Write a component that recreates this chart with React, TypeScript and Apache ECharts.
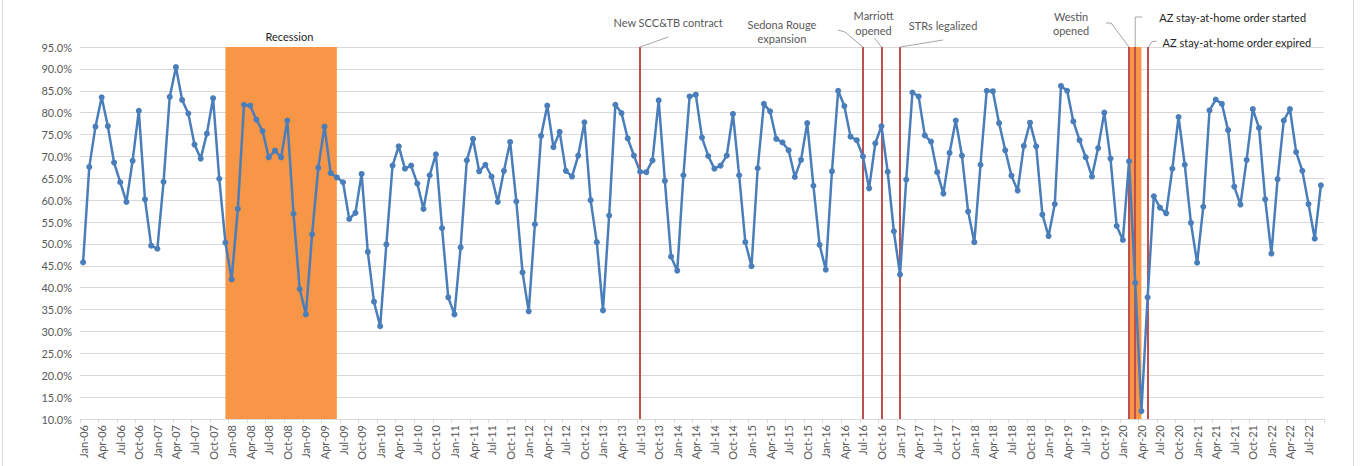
import React, { useEffect, useRef } from "react";
import * as echarts from "echarts";

// ---- Data ----
const monthNames = ["Jan", "Feb", "Mar", "Apr", "May", "Jun", "Jul", "Aug", "Sep", "Oct", "Nov", "Dec"];
const yearLabels = ["06", "07", "08", "09", "10", "11", "12", "13", "14", "15", "16", "17", "18", "19", "20", "21", "22"];

const occ2006 = [45.8, 67.6, 76.8, 83.5, 76.9, 68.6, 64.1, 59.6, 69.0, 80.4, 60.2, 49.6];
const occ2007 = [48.9, 64.2, 83.6, 90.4, 82.9, 79.8, 72.7, 69.5, 75.2, 83.3, 64.9, 50.3];
const occ2008 = [41.9, 58.0, 81.8, 81.6, 78.4, 75.8, 69.8, 71.3, 69.8, 78.2, 56.9, 39.7];
const occ2009 = [33.9, 52.2, 67.4, 76.8, 66.2, 65.2, 64.1, 55.7, 57.1, 66.0, 48.2, 36.8];
const occ2010 = [31.2, 49.9, 67.9, 72.3, 67.2, 67.9, 63.8, 58.0, 65.7, 70.5, 53.6, 37.8];
const occ2011 = [33.9, 49.2, 69.1, 74.0, 66.6, 68.1, 65.4, 59.6, 66.7, 73.3, 59.7, 43.5];
const occ2012 = [34.6, 54.5, 74.7, 81.6, 72.1, 75.6, 66.7, 65.4, 70.2, 77.8, 60.0, 50.4];
const occ2013 = [34.8, 56.5, 81.8, 79.9, 74.1, 70.2, 66.5, 66.4, 69.1, 82.8, 64.4, 47.1];
const occ2014 = [43.9, 65.7, 83.7, 84.1, 74.3, 70.1, 67.2, 67.9, 70.2, 79.7, 65.7, 50.4];
const occ2015 = [44.9, 67.3, 82.0, 80.3, 74.0, 73.2, 71.4, 65.3, 69.2, 77.6, 63.3, 49.8];
const occ2016 = [44.1, 66.6, 85.0, 81.5, 74.5, 73.7, 70.0, 62.7, 73.0, 76.9, 66.5, 52.9];
const occ2017 = [43.0, 64.7, 84.6, 83.7, 74.8, 73.4, 66.4, 61.5, 70.8, 78.2, 70.2, 57.4];
const occ2018 = [50.4, 68.1, 85.0, 84.9, 77.6, 71.4, 65.6, 62.2, 72.4, 77.7, 72.3, 56.7];
const occ2019 = [51.8, 59.1, 86.1, 85.0, 78.0, 73.7, 69.8, 65.4, 71.9, 80.0, 69.5, 54.1];
const occ2020 = [50.9, 68.9, 41.1, 11.8, 37.8, 60.9, 58.3, 57.0, 67.2, 79.0, 68.1, 54.8];
const occ2021 = [45.7, 58.5, 80.5, 83.0, 82.0, 76.0, 63.1, 59.0, 69.2, 80.8, 76.5, 60.2];
const occ2022 = [47.8, 64.8, 78.2, 80.8, 71.0, 66.7, 59.1, 51.2, 63.4];

const occupancy = [
  ...occ2006, ...occ2007, ...occ2008, ...occ2009, ...occ2010, ...occ2011, ...occ2012,
  ...occ2013, ...occ2014, ...occ2015, ...occ2016, ...occ2017, ...occ2018, ...occ2019,
  ...occ2020, ...occ2021, ...occ2022,
];

const categories = yearLabels
  .flatMap((y) => monthNames.map((m) => `${m}-${y}`))
  .slice(0, occupancy.length);

const yMin = 10;
const yMax = 95;
const yStep = 5;

const recessionBands = [
  ["Dec-07", "Jun-09"],
  ["Feb-20", "Apr-20"],
];
const eventMonths = ["Jul-13", "Jul-16", "Oct-16", "Jan-17", "Feb-20", "Mar-20", "May-20"];
const eventLabels = [
  "New SCC&TB contract",
  "Sedona Rouge\nexpansion",
  "Marriott\nopened",
  "STRs legalized",
  "Westin\nopened",
  "AZ stay-at-home order started",
  "AZ stay-at-home order expired",
];

const FONT = "Lato, 'Open Sans', sans-serif";

export default function App() {
  const ref = useRef<HTMLDivElement>(null);

  useEffect(() => {
    if (!ref.current) return;
    const chart = echarts.init(ref.current, null, { renderer: "svg" });
    chart.setOption({
      animation: false,
      textStyle: { fontFamily: FONT },
      grid: { left: 80, right: 36, top: 47, bottom: 47, containLabel: false },
      xAxis: {
        type: "category",
        data: categories,
        boundaryGap: true,
        axisLine: { show: true, lineStyle: { color: "#D9D9D9", width: 1 } },
        axisTick: { show: true, interval: 2, length: 4, lineStyle: { color: "#D9D9D9" } },
        axisLabel: {
          interval: 2,
          rotate: 90,
          margin: 6,
          color: "#595959",
          fontSize: 11,
          fontFamily: FONT,
        },
        splitLine: { show: false },
      },
      yAxis: {
        type: "value",
        min: yMin,
        max: yMax,
        interval: yStep,
        axisLine: { show: false },
        axisTick: { show: false },
        axisLabel: {
          color: "#595959",
          fontSize: 11,
          margin: 8,
          fontFamily: FONT,
          formatter: (v: number) => v.toFixed(1) + "%",
        },
        splitLine: { lineStyle: { color: "#D9D9D9", width: 1 } },
      },
      series: [
        {
          name: "bands",
          type: "line",
          data: [],
          z: 1,
          silent: true,
          markArea: {
            silent: true,
            z: 1,
            itemStyle: { color: "#F79646", opacity: 1 },
            label: { show: false },
            data: recessionBands.map(([a, b]) => [{ xAxis: a }, { xAxis: b }]),
          },
        },
        {
          name: "events",
          type: "line",
          data: [],
          z: 2,
          silent: true,
          markLine: {
            silent: true,
            z: 2,
            symbol: ["none", "none"],
            label: { show: false },
            lineStyle: { color: "#C0504D", width: 2, type: "solid" },
            data: eventMonths.map((m) => ({ xAxis: m })),
          },
        },
        {
          name: "Occupancy",
          type: "line",
          data: occupancy,
          z: 10,
          symbol: "circle",
          symbolSize: 6,
          showAllSymbol: true,
          lineStyle: { color: "#4A7EBB", width: 2.5 },
          itemStyle: { color: "#4A7EBB" },
        },
      ],
    });

    const xOf = (m: string) => chart.convertToPixel({ xAxisIndex: 0 }, categories.indexOf(m)) as number;
    const yT = chart.convertToPixel({ yAxisIndex: 0 }, yMax) as number;
    const ex = eventMonths.map(xOf);

    const gray = "#595959";
    const lead = "#A6A6A6";
    const txt = (text: string, x: number, y: number, align: string, fill = gray, lh = 14) => ({
      type: "text",
      x,
      y,
      silent: true,
      z: 20,
      style: { text, fill, fontSize: 11, fontFamily: FONT, align, verticalAlign: "middle", lineHeight: lh },
    });
    const leader = (pts: number[][]) => ({
      type: "polyline",
      silent: true,
      z: 20,
      shape: { points: pts },
      style: { stroke: lead, lineWidth: 1, fill: null },
    });

    const bandStart = xOf(recessionBands[0][0]);
    const graphic: any[] = [
      {
        type: "rect",
        silent: true,
        shape: { x: 2.5, y: -5, width: 1351, height: 480 },
        style: { stroke: "#D9D9D9", fill: "none", lineWidth: 1 },
      },
      txt("Recession", bandStart + 64, yT - 11, "center", "#262626"),
      txt(eventLabels[0], ex[0] + 28, yT - 25, "center"),
      leader([[ex[0], yT], [ex[0] + 28, yT - 10]]),
      txt(eventLabels[1], ex[1] - 81, yT - 16, "center"),
      leader([[ex[1] - 25, yT - 17], [ex[1] - 18, yT - 15], [ex[1], yT]]),
      txt(eventLabels[2], ex[2] - 8, yT - 24.5, "center", gray, 15),
      leader([[ex[2] - 7, yT - 9], [ex[2], yT]]),
      txt(eventLabels[3], ex[3] + 43, yT - 22, "center"),
      leader([[ex[3], yT], [ex[3] + 43, yT - 7]]),
      txt(eventLabels[4], ex[4] - 58, yT - 24, "center"),
      leader([[ex[4] - 23, yT - 24], [ex[4] - 18, yT - 24], [ex[4], yT]]),
      txt(eventLabels[5], ex[5] + 24, yT - 30, "left", "#262626"),
      leader([[ex[5], yT], [ex[5], yT - 30], [ex[5] + 7, yT - 30]]),
      txt(eventLabels[6], ex[6] + 15, yT - 5, "left", "#262626"),
      leader([[ex[6] + 1, yT], [ex[6] + 4, yT - 5], [ex[6] + 9, yT - 6]]),
    ];
    chart.setOption({ graphic });

    return () => chart.dispose();
  }, []);

  return (
    <div
      ref={ref}
      style={{ position: "fixed", left: 0, top: 0, width: 1360, height: 466, background: "#fff" }}
    />
  );
}
